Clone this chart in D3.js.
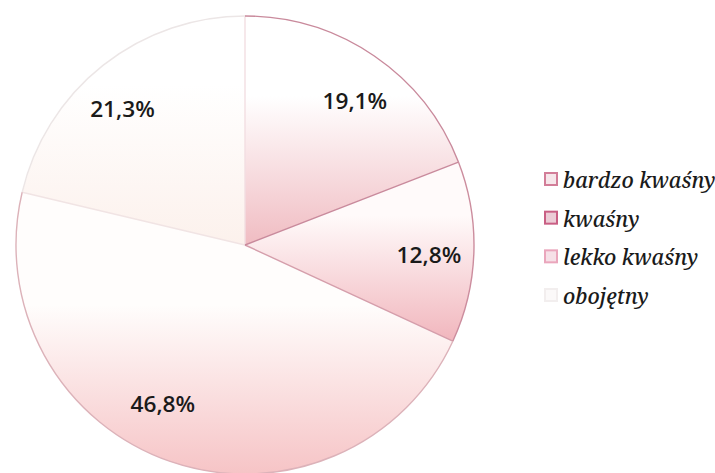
<!DOCTYPE html>
<html>
<head>
<meta charset="utf-8">
<script src="https://cdn.jsdelivr.net/npm/d3@7"></script>
<style>
  html, body { margin: 0; padding: 0; background: #fff; }
  svg { display: block; }
</style>
</head>
<body>
<svg id="chart" width="715" height="473"></svg>
<script>
// Soil reaction categories and their shares (%)
const categories = ["bardzo kwaśny", "kwaśny", "lekko kwaśny", "obojętny"];
const shares = [19.1, 12.8, 46.8, 21.3];
const shareLabels = ["19,1%", "12,8%", "46,8%", "21,3%"];

// Per-slice look: gradient colours, rim colour, closing-edge colour, legend swatch
const sliceBottom = ["#f0bcc2", "#f1b6bd", "#f6c4c6", "#fcf1ec"];
const sliceTop    = ["#ffffff", "#fffafa", "#fffdfc", "#ffffff"];
const rimStroke   = ["#c98a9c", "#cc8d9e", "#dcb2b9", "#ece6e6"];
const edgeStroke  = ["#c98a9c", "#d59eab", "#f1e4e4", "#f2dfe2"];
const swatchStroke = ["#d27d98", "#c95f84", "#eaa6bc", "#f2eeee"];
const swatchFill   = ["#f6e6ea", "#ecccd6", "#f6e0e7", "#fbf9f9"];

const svg = d3.select("#chart");
const cx = 245, cy = 245, R = 229;

const defs = svg.append("defs");
const gradStart = [0.35, 0.3, 0.4, 0.3];
categories.forEach((c, i) => {
  const g = defs.append("linearGradient")
    .attr("id", "grad" + i)
    .attr("x1", 0).attr("y1", 0).attr("x2", 0).attr("y2", 1);
  g.append("stop").attr("offset", gradStart[i]).attr("stop-color", sliceTop[i]);
  g.append("stop").attr("offset", 1).attr("stop-color", sliceBottom[i]);
});

const pie = d3.pie().sort(null).value(d => d)(shares);
const arc = d3.arc().innerRadius(0).outerRadius(R);
const rim = d3.arc().innerRadius(R).outerRadius(R);
const labelArc = d3.arc().innerRadius(175).outerRadius(175);

const gPie = svg.append("g").attr("transform", `translate(${cx},${cy})`);

// Slice fills
gPie.selectAll("path.slice")
  .data(pie)
  .join("path")
  .attr("class", "slice")
  .attr("d", arc)
  .attr("fill", d => `url(#grad${d.index})`);

// Radial edge at the end of each slice (faint ones first)
const edge = d3.lineRadial().angle(d => d[0]).radius(d => d[1]);
gPie.selectAll("path.edge")
  .data([...pie].reverse())
  .join("path")
  .attr("class", "edge")
  .attr("d", d => edge([[d.endAngle, 0], [d.endAngle, R]]))
  .attr("fill", "none")
  .attr("stroke", d => edgeStroke[d.index])
  .attr("stroke-width", 1.4);

// Outer rim of each slice
gPie.selectAll("path.rim")
  .data([...pie].reverse())
  .join("path")
  .attr("class", "rim")
  .attr("d", rim)
  .attr("fill", "none")
  .attr("stroke", d => rimStroke[d.index])
  .attr("stroke-width", 1.4);

// Percentage labels, nudged from the label ring
const nudge = [[11, 0], [9, 4], [-25, -7], [-14, 1]];
gPie.selectAll("text.val")
  .data(pie)
  .join("text")
  .attr("class", "val")
  .attr("transform", d => {
    const [x, y] = labelArc.centroid(d);
    const [dx, dy] = nudge[d.index];
    return `translate(${x + dx},${y + dy}) scale(1.08,1)`;
  })
  .attr("text-anchor", "middle")
  .attr("dominant-baseline", "central")
  .attr("font-family", "'Open Sans', sans-serif")
  .attr("font-weight", 600)
  .attr("font-size", 21)
  .attr("fill", "#1a1a1a")
  .text((d, i) => shareLabels[i]);

// Legend
const legend = svg.append("g").attr("transform", "translate(545,179)");
const rowY = d3.scalePoint().domain(categories).range([0, 116]);
const rows = legend.selectAll("g.row")
  .data(categories)
  .join("g")
  .attr("class", "row")
  .attr("transform", d => `translate(0,${rowY(d)})`);
rows.append("rect")
  .attr("x", 0).attr("y", -6)
  .attr("width", 12).attr("height", 12)
  .attr("fill", (d, i) => swatchFill[i])
  .attr("stroke", (d, i) => swatchStroke[i])
  .attr("stroke-width", 2);
rows.append("text")
  .attr("x", 18)
  .attr("y", 1)
  .attr("dominant-baseline", "central")
  .attr("font-family", "'Noto Serif', serif")
  .attr("font-style", "italic")
  .attr("font-weight", 500)
  .attr("font-size", 21)
  .attr("fill", "#1a1a1a")
  .text(d => d);
</script>
</body>
</html>
